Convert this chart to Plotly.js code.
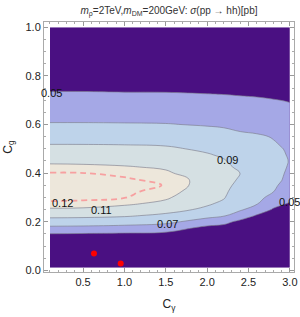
<!DOCTYPE html>
<html>
<head>
<meta charset="utf-8">
<script src="https://cdn.plot.ly/plotly-3.0.1.min.js"></script>
<style>html,body{margin:0;padding:0;background:#fff;}#chart{width:300px;height:317px;}</style>
</head>
<body>
<div id="chart"></div>
<script>
// C_gamma grid (x)
const cGamma = [0.1, 0.5, 1.0, 1.5, 2.0, 2.2, 2.4, 2.6, 2.8, 2.9, 3.0];
// C_g grid (y)
const cG = [0.01, 0.1, 0.125, 0.15, 0.175, 0.2, 0.225, 0.25, 0.275, 0.3, 0.325, 0.35, 0.375, 0.4, 0.425, 0.45, 0.475, 0.5, 0.55, 0.6, 0.65, 0.7, 0.75, 0.85, 1.0];
// sigma(pp -> hh) [pb], one row per C_g value
const sigma = [
  [0.01,0.01,0.01,0.01,0.01,0.01,0.01,0.01,0.01,0.01,0.01],
  [0.03,0.03,0.03,0.03,0.025,0.024,0.022,0.021,0.019,0.0185,0.018],
  [0.036,0.036,0.037,0.037,0.032,0.03,0.028,0.026,0.0235,0.0225,0.022],
  [0.0498,0.049,0.048,0.046,0.04,0.037,0.034,0.032,0.028,0.027,0.026],
  [0.0661,0.0655,0.0638,0.0606,0.045,0.043,0.04,0.037,0.0325,0.031,0.03],
  [0.0812,0.0806,0.0786,0.0747,0.0614,0.0562,0.045,0.042,0.037,0.036,0.034],
  [0.095,0.0944,0.0922,0.0863,0.0757,0.0715,0.062,0.048,0.042,0.041,0.039],
  [0.1075,0.1066,0.1033,0.0965,0.0865,0.0792,0.0719,0.0633,0.048,0.046,0.044],
  [0.119,0.1185,0.1129,0.1062,0.0923,0.0869,0.0751,0.0713,0.0573,0.0516,0.049],
  [0.1216,0.1214,0.1205,0.1124,0.0956,0.0913,0.0783,0.0734,0.0664,0.0574,0.054],
  [0.1241,0.1236,0.1219,0.117,0.099,0.0934,0.0815,0.0755,0.0705,0.0631,0.059],
  [0.1246,0.1241,0.1226,0.1197,0.1023,0.0955,0.0847,0.0776,0.0714,0.0689,0.063],
  [0.1222,0.1219,0.1212,0.1165,0.1049,0.0976,0.0879,0.0797,0.0722,0.0704,0.066],
  [0.1205,0.1202,0.1175,0.1121,0.1011,0.096,0.0899,0.0818,0.0731,0.071,0.068],
  [0.1133,0.1128,0.1111,0.1081,0.0978,0.0936,0.087,0.083,0.074,0.0716,0.069],
  [0.107,0.1065,0.1053,0.1029,0.0946,0.0912,0.0842,0.0807,0.0741,0.0719,0.0695],
  [0.1006,0.1004,0.0995,0.0977,0.0913,0.0879,0.0813,0.0784,0.073,0.0712,0.069],
  [0.0943,0.0942,0.0937,0.0925,0.0872,0.0839,0.0785,0.0761,0.0719,0.0705,0.068],
  [0.0826,0.0826,0.0824,0.0816,0.0779,0.0758,0.0727,0.0715,0.0694,0.0666,0.0645],
  [0.0713,0.0713,0.0711,0.0707,0.0688,0.0679,0.0663,0.0653,0.0631,0.0611,0.06],
  [0.0631,0.0631,0.0629,0.0626,0.0611,0.0605,0.0593,0.0585,0.0568,0.0555,0.0545],
  [0.0552,0.0552,0.055,0.0547,0.0534,0.0531,0.0523,0.0516,0.0505,0.0499,0.049],
  [0.048,0.048,0.0475,0.0475,0.047,0.0465,0.046,0.0455,0.0448,0.0443,0.044],
  [0.041,0.041,0.04,0.04,0.039,0.0385,0.038,0.0375,0.0368,0.0363,0.036],
  [0.033,0.033,0.032,0.032,0.031,0.0305,0.030,0.0295,0.029,0.0285,0.028]
];
// benchmark points
const ptGamma = [0.632, 0.955];
const ptG = [0.069, 0.028];
// contour label texts and where they sit
const labelText = ["0.05", "0.12", "0.11", "0.07", "0.09", "0.05"];
const labelX = [0.113, 0.25, 0.717, 1.52, 2.25, 2.99];
const labelY = [0.73, 0.276, 0.247, 0.189, 0.453, 0.281];
const xTicks = [0.5, 1.0, 1.5, 2.0, 2.5, 3.0];

const bandColors = ['#4a1082', '#a5a8e6', '#bed3ea', '#d5e0e3', '#ede7db'];

const traces = [
  {
    type: 'contour', x: cGamma, y: cG, z: sigma,
    autocontour: false,
    contours: {start: 0.05, end: 0.11, size: 0.02, coloring: 'fill', showlines: true},
    colorscale: bandColors.map((c, i) => [i / (bandColors.length - 1), c]),
    line: {color: 'rgba(125,125,140,0.8)', width: 0.8, smoothing: 1.2},
    showscale: false, hoverinfo: 'skip'
  },
  {
    type: 'contour', x: cGamma, y: cG, z: sigma,
    autocontour: false,
    contours: {start: 0.12, end: 0.12, size: 0.01, coloring: 'none'},
    line: {color: '#f7a0a0', width: 1.8, dash: '6px,4px', smoothing: 1.2},
    showscale: false, hoverinfo: 'skip'
  },
  {
    type: 'scatter', mode: 'markers', x: ptGamma, y: ptG,
    marker: {color: '#ff0000', size: 6}, hoverinfo: 'skip'
  }
];

const font = {family: 'Liberation Sans, Arial, sans-serif', size: 11, color: '#222'};

const annotations = labelText.map((t, i) => ({
  x: labelX[i], y: labelY[i], xref: 'x', yref: 'y', text: t,
  showarrow: false, font: {family: font.family, size: 11, color: '#111'}
}));

const axisCommon = {
  ticks: 'inside', ticklen: 4, tickcolor: '#999', tickwidth: 1,
  showline: true, linecolor: '#aaa', linewidth: 1, mirror: 'ticks',
  showgrid: false, zeroline: false, tickfont: font
};

const layout = {
  width: 300, height: 317,
  margin: {l: 44, r: 6, t: 22, b: 45},
  paper_bgcolor: '#fff', plot_bgcolor: '#fff',
  showlegend: false,
  font: font,
  title: {
    text: '<i>m</i><sub>ρ</sub>=2TeV,<i>m</i><sub>DM</sub>=200GeV: <i>σ</i>(pp → hh)[pb]',
    font: {family: font.family, size: 10, color: '#333'},
    x: 0.5, xref: 'paper', y: 1 - 10 / 317, yref: 'container', yanchor: 'middle'
  },
  xaxis: Object.assign({}, axisCommon, {
    range: [0.028, 3.05], tickvals: xTicks, tickformat: '.1f',
    minor: {ticks: 'inside', ticklen: 2, dtick: 0.1, tickcolor: '#aaa'},
    title: {text: 'C<sub>γ</sub>', font: {family: font.family, size: 12, color: '#222'}, standoff: 12}
  }),
  yaxis: Object.assign({}, axisCommon, {
    range: [-0.007, 1.022], dtick: 0.2, tick0: 0, tickformat: '.1f',
    minor: {ticks: 'inside', ticklen: 2, dtick: 0.05, tickcolor: '#aaa'},
    title: {text: 'C<sub>g</sub>', font: {family: font.family, size: 12, color: '#222'}, standoff: 10}
  }),
  annotations: annotations
};

Plotly.newPlot('chart', traces, layout, {displayModeBar: false, staticPlot: true});
</script>
</body>
</html>
